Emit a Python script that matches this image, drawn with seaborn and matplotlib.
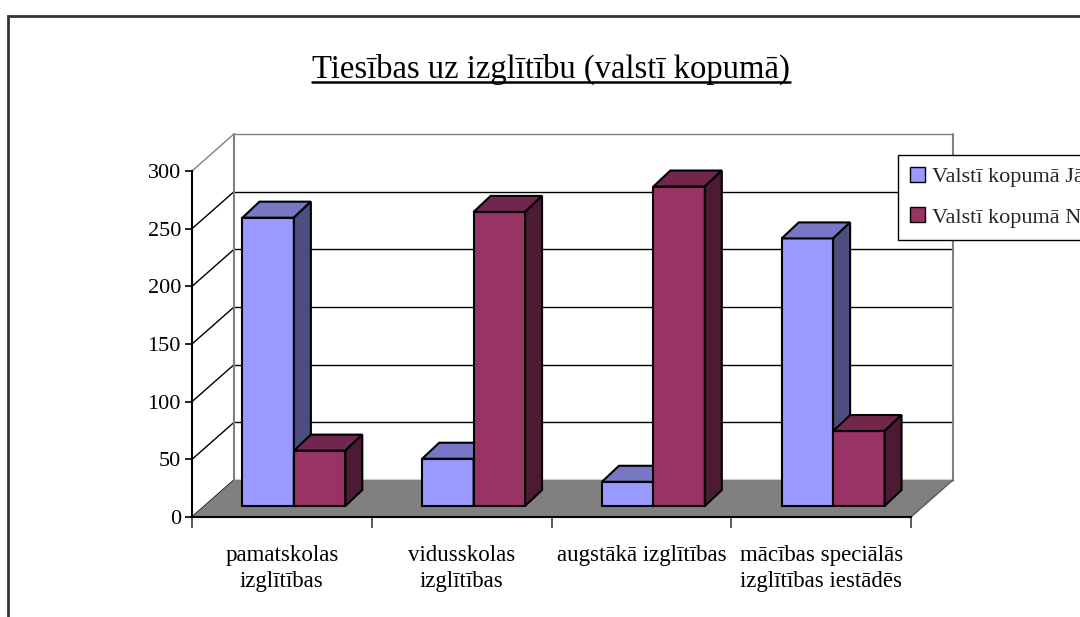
import numpy as np
import pandas as pd
import matplotlib
matplotlib.use("Agg")
import matplotlib.pyplot as plt
import matplotlib.transforms as mtransforms
from matplotlib.patches import Polygon, Rectangle, Patch
from matplotlib.lines import Line2D
from matplotlib.colors import to_rgba
import seaborn as sns

# data
categories = ["pamatskolas\nizglītības", "vidusskolas\nizglītības",
              "augstākā izglītības", "mācības speciālās\nizglītības iestādēs"]
series = ["Valstī kopumā Jā", "Valstī kopumā Nē"]
ja = [250, 41, 21, 232]
ne = [48, 255, 277, 65]
y_ticks = [0, 50, 100, 150, 200, 250, 300]
title = "Tiesības uz izglītību (valstī kopumā)"

front_cols = ["#9999FF", "#993366"]
top_cols = ["#7777C6", "#73264D"]
side_cols = ["#4D4D80", "#4D1A33"]
gray = "#808080"

sns.set_theme(style="white")
plt.rcParams["font.family"] = ["Liberation Serif", "DejaVu Serif"]

df = pd.DataFrame({
    "kategorija": categories * 2,
    "sērija": [series[0]] * len(categories) + [series[1]] * len(categories),
    "vērtība": ja + ne,
})

W, H = 1080, 617
fig = plt.figure(figsize=(W / 100, H / 100), dpi=100)
ax = fig.add_axes([192 / W, (H - 517) / H, 719 / W, 346 / H])
ax.patch.set_alpha(0)

# pixel -> data helpers
px_x = 719 / 4
px_y = 346 / 300
def dx(p):
    return p / px_x
def dy(p):
    return p / px_y

# bars (front faces) via seaborn
sns.barplot(data=df, x="kategorija", y="vērtība", hue="sērija",
            order=categories, hue_order=series, palette=front_cols,
            saturation=1, width=103 / 180, edgecolor="black", linewidth=1.5,
            legend=False, ax=ax)
bars = list(ax.patches)
ax.set_xlim(-0.5, 3.5)
ax.set_ylim(0, 300)
ax.set_xlabel("")
ax.set_ylabel("")

# back wall, side wall, floor
bx, by = dx(42), dy(37)
for v in y_ticks:
    col = gray if v == 300 else "black"
    ax.plot([-0.5 + bx, 3.5 + bx], [v + by] * 2, color=col, lw=1, clip_on=False, zorder=1)
    ax.plot([-0.5, -0.5 + bx], [v, v + by], color=col, lw=1, clip_on=False, zorder=1)
ax.plot([-0.5 + bx] * 2, [by, 300 + by], color=gray, lw=1.5, clip_on=False, zorder=1)
ax.plot([3.5 + bx] * 2, [by, 300 + by], color=gray, lw=1.5, clip_on=False, zorder=1)
ax.add_patch(Polygon([(-0.5, 0), (3.5, 0), (3.5 + bx, by), (-0.5 + bx, by)],
                     closed=True, facecolor=gray, edgecolor="none",
                     clip_on=False, zorder=1.5))
ax.plot([3.5, 3.5 + bx], [0, by], color="#5a5a5a", lw=1, clip_on=False, zorder=1.6)

# 3d faces of bars
off = mtransforms.offset_copy(ax.transData, fig=fig, x=12, y=11, units="dots")
ddx, ddy = dx(17), dy(16)
for bar in bars:
    k = 0 if np.allclose(bar.get_facecolor(), to_rgba(front_cols[0])) else 1
    x0, w, h = bar.get_x(), bar.get_width(), bar.get_height()
    x1 = x0 + w
    bar.set_transform(off)
    bar.set_clip_on(False)
    bar.set_zorder(3 + k)
    top = Polygon([(x0, h), (x1, h), (x1 + ddx, h + ddy), (x0 + ddx, h + ddy)],
                  closed=True, facecolor=top_cols[k], edgecolor="black", lw=1.5,
                  transform=off, clip_on=False, zorder=3 + k)
    side = Polygon([(x1, 0), (x1 + ddx, ddy), (x1 + ddx, h + ddy), (x1, h)],
                   closed=True, facecolor=side_cols[k], edgecolor="black", lw=1.5,
                   transform=off, clip_on=False, zorder=3 + k)
    ax.add_patch(top)
    ax.add_patch(side)

# axes, ticks
for s in ["top", "right"]:
    ax.spines[s].set_visible(False)
for s in ["left", "bottom"]:
    ax.spines[s].set_color("black")
    ax.spines[s].set_linewidth(1.5)
    ax.spines[s].set_zorder(2)

ax.set_yticks(y_ticks)
ax.set_yticklabels([str(v) for v in y_ticks])
ax.tick_params(axis="y", left=True, length=5, width=1.2, color="black",
               direction="out", pad=3, labelsize=16, labelcolor="black")
ax.set_xticks(range(len(categories)))
ax.set_xticklabels(categories, linespacing=1.35)
ax.tick_params(axis="x", which="major", bottom=False, pad=14, labelsize=16.5,
               labelcolor="black")
ax.set_xticks(np.arange(-0.5, len(categories), 1), minor=True)
ax.tick_params(axis="x", which="minor", bottom=True, length=8, width=1.2,
               color="#404040", direction="out")

# title with underline
t = fig.text(551 / W, 1 - 78 / H, title, ha="center", va="baseline",
             fontsize=23.5, color="black")
fig.canvas.draw()
bb = t.get_window_extent()
fig.add_artist(Line2D([bb.x0 / W, bb.x1 / W], [1 - 82 / H] * 2,
                      transform=fig.transFigure, color="black", lw=1.8))

# legend (cut by the right edge as in the original)
handles = [Patch(facecolor=c, edgecolor="black", linewidth=1) for c in front_cols]
leg = fig.legend(handles, series, loc="upper left",
                 bbox_to_anchor=(898 / W, 1 - 155 / H), frameon=True,
                 fancybox=False, edgecolor="black", framealpha=1, fontsize=16,
                 handlelength=0.65, handleheight=0.65, handletextpad=0.35,
                 labelspacing=0.9, borderpad=0.55, borderaxespad=0)
leg.get_frame().set_linewidth(1)

# chart area border
fig.add_artist(Rectangle((8 / W, -0.2), 1.5, 0.2 + (1 - 16 / H),
                         transform=fig.transFigure, facecolor="none",
                         edgecolor="#333333", lw=2))

fig.savefig("out.png", dpi=100)
